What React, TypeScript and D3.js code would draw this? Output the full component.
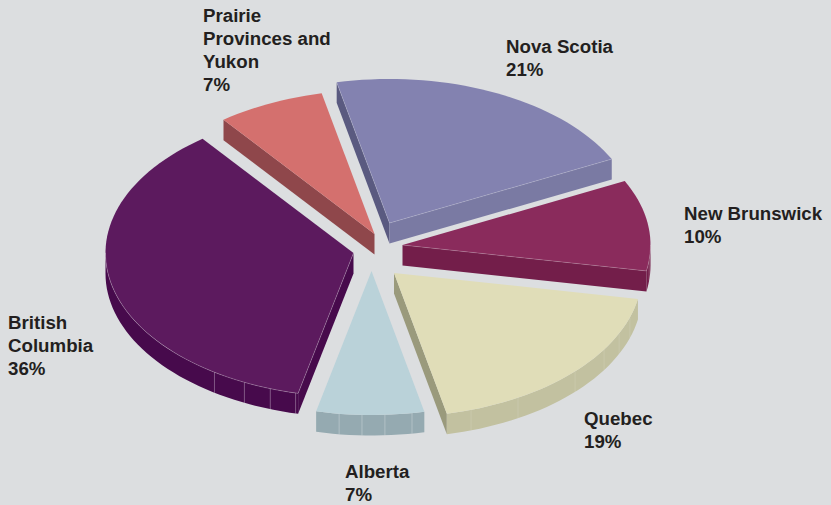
import React from "react";
import * as d3 from "d3";

const names = ["Nova Scotia", "New Brunswick", "Quebec", "Alberta", "British Columbia", "Prairie Provinces and Yukon"];
const shares = [21.1, 10.2, 18.7, 7, 36, 7];
const labelLines = [["Nova Scotia", "21%"], ["New Brunswick", "10%"], ["Quebec", "19%"], ["Alberta", "7%"], ["British", "Columbia", "36%"], ["Prairie", "Provinces and", "Yukon", "7%"]];
const topColors = ["#8382b0", "#8a2b5c", "#e0ddb8", "#bad2d9", "#5c1a5e", "#d4706e"];
const startWall = ["#5a5a80", "#731e4a", "#c2c1a0", "#95aab1", "#470a4c", "#8f474b"];
const endWall = ["#7a7aa3", "#731e4a", "#9a9a7c", "#95aab1", "#470a4c", "#8f474b"];
const arcWall = ["#7a7aa3", "#731e4a", "#c2c1a0", "#95aab1", "#470a4c", "#8f474b"];
const rimHighlight = [0.3, 0.3, 0, 0, 0.4, 0];
const facetAngles = [[], [96], [108, 114.8, 122.1, 133.1, 150, 161.9], [170.6, 176.9, 182.2, 187.5], [193.5, 199.6, 206.1, 214.1], []];
const facetOpacity = [0, 0.3, 0.16, 0.35, 0.4, 0];
const apexDx = [18, 31, 22.5, 0, -18, 3];
const apexDy = [-25, -3, 25, 23, 5, -14];
const labelX = [506, 684, 584, 345, 8, 203];
const labelY = [53, 220, 425, 478, 329, 22];
const drawOrder = [0, 5, 1, 4, 2, 3];

const W = 831, H = 505, CX = 371.5, CY = 248, RX = 248, RY = 144, DEPTH = 20.5;
const rad = (d: number) => (d * Math.PI) / 180;

const pie = d3.pie<number>().sort(null).startAngle(rad(-12.3)).endAngle(rad(347.7));
const arcs = pie(shares);

const px = d3.scaleLinear().domain([-1, 1]).range([-RX, RX]);
const py = d3.scaleLinear().domain([-1, 1]).range([RY, -RY]);
const line = d3.line<[number, number]>();

function rim(a: number, ox: number, oy: number, drop = 0): [number, number] {
  return [ox + px(Math.sin(a)), oy + py(Math.cos(a)) + drop];
}
function samples(a0: number, a1: number): number[] {
  const n = Math.max(2, Math.ceil(((a1 - a0) * 180) / Math.PI / 2));
  return d3.range(n + 1).map((i) => a0 + ((a1 - a0) * i) / n);
}

export default function App() {
  return (
    <svg width={W} height={H} style={{ position: "absolute", left: 0, top: 0, background: "#dcdee0" }}>
      {drawOrder.map((i) => {
        const { startAngle: a0, endAngle: a1 } = arcs[i];
        const ox = CX + apexDx[i], oy = CY + apexDy[i];
        const top: [number, number][] = [[ox, oy], ...samples(a0, a1).map((a) => rim(a, ox, oy))];
        const wall = (a: number, c: string) => {
          const e = rim(a, ox, oy);
          return (
            <path
              d={line([[ox, oy], e, [e[0], e[1] + DEPTH], [ox, oy + DEPTH]]) + "Z"}
              fill={c}
            />
          );
        };
        const lo = Math.max(a0, rad(90));
        const hi = Math.min(a1, rad(270));
        const hasArc = hi > lo;
        const arcPts = hasArc ? samples(lo, hi) : [];
        const highlightEdges: string[] = [];
        if (rimHighlight[i] > 0) {
          if (hasArc) highlightEdges.push(line(arcPts.map((a) => rim(a, ox, oy))) ?? "");
          if (Math.sin(a0) < 0) highlightEdges.push(line([[ox, oy], rim(a0, ox, oy)]) ?? "");
          if (Math.sin(a1) > 0) highlightEdges.push(line([[ox, oy], rim(a1, ox, oy)]) ?? "");
        }
        return (
          <g key={names[i]}>
            {Math.sin(a0) < 0 && wall(a0, startWall[i])}
            {Math.sin(a1) > 0 && wall(a1, endWall[i])}
            {hasArc && (
              <path
                d={line([...arcPts.map((a) => rim(a, ox, oy)), ...arcPts.slice().reverse().map((a) => rim(a, ox, oy, DEPTH))]) + "Z"}
                fill={arcWall[i]}
              />
            )}
            {facetAngles[i].map((deg) => {
              const e = rim(rad(deg), ox, oy);
              return <path key={deg} d={line([e, [e[0], e[1] + DEPTH]]) ?? ""} stroke="#fff" strokeOpacity={facetOpacity[i]} strokeWidth={0.8} />;
            })}
            <path d={line(top) + "Z"} fill={topColors[i]} />
            {highlightEdges.map((d, k) => (
              <path key={k} d={d} fill="none" stroke="#fff" strokeOpacity={rimHighlight[i]} strokeWidth={0.6} />
            ))}
          </g>
        );
      })}
      {labelLines.map((ls, i) => (
        <text key={names[i]} fontFamily="'Liberation Sans', Arial, sans-serif" fontWeight={700} fontSize={18.7} fill="#231f20">
          {ls.map((t, j) => (
            <tspan key={j} x={labelX[i]} y={labelY[i] + j * 23}>{t}</tspan>
          ))}
        </text>
      ))}
    </svg>
  );
}
